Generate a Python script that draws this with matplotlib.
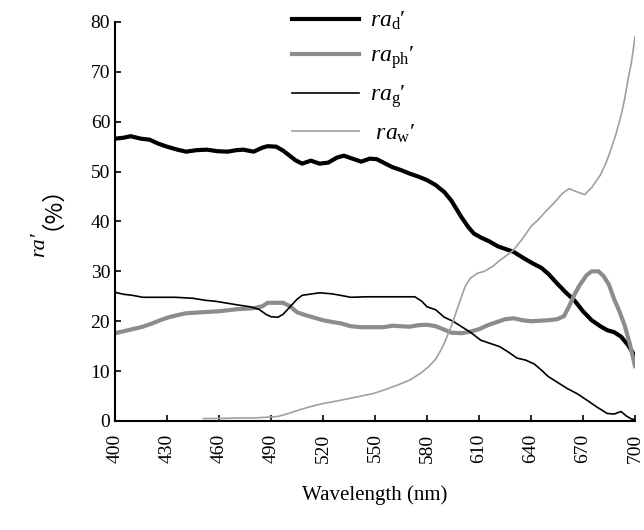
#!/usr/bin/env python3
"""Relative absorption spectra of water constituents."""

import matplotlib

matplotlib.use("Agg")
import matplotlib.pyplot as plt

# ra_d' (detritus), thick black
wl_d = [400, 405, 409, 415, 420, 425, 430, 436, 441, 447, 453, 459, 465, 470, 474,
        480, 485, 488, 493, 497, 500, 504, 508, 513, 518, 523, 528, 532, 537, 542,
        547, 551, 556, 560, 565, 570, 575, 580, 585, 590, 594, 597, 600, 604, 607,
        611, 616, 621, 626, 630, 636, 641, 646, 650, 655, 660, 665, 670, 675, 680,
        684, 688, 692, 696, 700]
ra_d = [56.6, 56.8, 57.1, 56.6, 56.4, 55.6, 55.0, 54.4, 54.0, 54.3, 54.4, 54.1, 54.0,
        54.3, 54.4, 54.0, 54.8, 55.1, 55.0, 54.2, 53.4, 52.3, 51.6, 52.2, 51.6, 51.8,
        52.8, 53.2, 52.6, 52.0, 52.6, 52.5, 51.6, 50.9, 50.3, 49.6, 49.0, 48.3, 47.3,
        45.9, 44.2, 42.5, 40.8, 38.8, 37.6, 36.8, 36.0, 35.0, 34.4, 33.9, 32.6, 31.6,
        30.7, 29.5, 27.6, 25.8, 24.2, 22.0, 20.2, 19.0, 18.2, 17.8, 16.9, 15.2, 13.0]

# ra_ph' (phytoplankton), thick gray
wl_ph = [400, 405, 410, 416, 421, 426, 431, 437, 441, 450, 460, 470, 480, 485, 488,
         493, 497, 501, 505, 510, 515, 520, 526, 530, 536, 542, 549, 555, 560, 565,
         570, 575, 580, 585, 590, 594, 600, 605, 610, 615, 620, 625, 630, 635, 640,
         645, 650, 655, 659, 662, 665, 668, 672, 675, 679, 682, 685, 688, 691, 694,
         697, 700]
ra_ph = [17.6, 18.0, 18.4, 18.9, 19.5, 20.2, 20.8, 21.3, 21.6, 21.8, 22.0, 22.4, 22.6,
         23.0, 23.7, 23.7, 23.7, 23.0, 21.8, 21.2, 20.7, 20.2, 19.8, 19.6, 19.0, 18.8,
         18.8, 18.8, 19.1, 19.0, 18.9, 19.2, 19.3, 19.0, 18.3, 17.7, 17.6, 17.9, 18.4,
         19.2, 19.8, 20.4, 20.6, 20.2, 20.0, 20.1, 20.2, 20.4, 21.0, 23.0, 25.3, 27.2,
         29.2, 30.0, 30.0, 29.0, 27.3, 24.4, 22.0, 19.2, 15.5, 11.0]

# ra_g' (CDOM), thin black
wl_g = [400, 405, 410, 416, 425, 435, 445, 452, 458, 465, 472, 478, 483, 487, 490,
        494, 497, 501, 505, 508, 512, 518, 525, 530, 536, 545, 555, 565, 573, 577,
        580, 585, 590, 595, 600, 605, 611, 616, 622, 627, 632, 637, 642, 646, 650,
        655, 661, 667, 673, 678, 684, 688, 692, 695, 698, 700]
ra_g = [25.8, 25.4, 25.2, 24.8, 24.8, 24.8, 24.6, 24.2, 24.0, 23.6, 23.2, 22.9, 22.4,
        21.4, 20.9, 20.8, 21.4, 22.9, 24.4, 25.2, 25.4, 25.7, 25.5, 25.2, 24.8, 24.9,
        24.9, 24.9, 24.9, 24.0, 22.9, 22.3, 20.8, 20.0, 18.9, 17.8, 16.2, 15.6, 14.9,
        13.8, 12.6, 12.2, 11.4, 10.2, 8.9, 7.8, 6.5, 5.4, 4.0, 2.8, 1.5, 1.4, 1.9,
        1.0, 0.4, 0.3]

# ra_w' (pure water), thin gray
wl_w = [451, 460, 470, 480, 490, 494, 500, 507, 514, 520, 528, 535, 542, 549, 556,
        563, 570, 576, 581, 585, 588, 590, 592, 594, 596, 598, 600, 602, 605, 609,
        613, 618, 622, 626, 630, 635, 640, 644, 649, 653, 658, 662, 666, 671, 675,
        680, 683, 686, 689, 692, 694, 696, 698, 700]
ra_w = [0.5, 0.5, 0.6, 0.6, 0.8, 0.9, 1.5, 2.3, 3.0, 3.5, 4.0, 4.5, 5.0, 5.5, 6.3,
        7.2, 8.2, 9.5, 10.9, 12.4, 14.2, 15.6, 17.3, 19.0, 21.0, 23.0, 25.0, 27.0,
        28.6, 29.6, 30.0, 31.0, 32.2, 33.2, 34.3, 36.5, 39.0, 40.3, 42.2, 43.6, 45.6,
        46.6, 46.0, 45.4, 46.8, 49.3, 51.5, 54.3, 57.5, 61.3, 64.5, 68.5, 72.0, 77.0]

x_ticks = [400, 430, 460, 490, 520, 550, 580, 610, 640, 670, 700]
y_ticks = [0, 10, 20, 30, 40, 50, 60, 70, 80]

labels = [
    r"$\mathit{ra}_{\mathrm{d}}$′",
    r"$\mathit{ra}_{\mathrm{ph}}$′",
    r"$\mathit{ra}_{\mathrm{g}}$′",
    r" $\mathit{ra}_{\mathrm{w}}$′",
]

plt.rcParams["font.family"] = ["Liberation Serif", "Noto Sans CJK SC"]
plt.rcParams["mathtext.fontset"] = "custom"
plt.rcParams["mathtext.rm"] = "Liberation Serif"
plt.rcParams["mathtext.it"] = "Liberation Serif:italic"


def main() -> None:
    fig = plt.figure(figsize=(6.44, 5.30), dpi=100)
    ax = fig.add_axes([0.1786, 0.2057, 0.8074, 0.7528])

    ax.plot(wl_d, ra_d, color="black", lw=3.0, label=labels[0])
    ax.plot(wl_ph, ra_ph, color="#8c8c8c", lw=3.0, label=labels[1])
    ax.plot(wl_g, ra_g, color="black", lw=1.2, label=labels[2])
    ax.plot(wl_w, ra_w, color="#a0a0a0", lw=1.2, label=labels[3])

    ax.set_xlim(400, 700)
    ax.set_ylim(0, 80)
    ax.set_xticks(x_ticks)
    ax.set_yticks(y_ticks)
    ax.tick_params(direction="in", length=4, width=1.2, labelsize=14)
    ax.tick_params(axis="x", pad=9)
    for label in ax.get_xticklabels():
        label.set_rotation(90)
    for side in ("top", "right"):
        ax.spines[side].set_visible(False)
    for side in ("left", "bottom"):
        ax.spines[side].set_linewidth(1.5)

    ax.set_xlabel("Wavelength (nm)", fontsize=15, labelpad=16)

    # y label in two pieces so the italic part and the full-width brackets both render
    split_y = 1 - 232 / 530
    fig.text(40 / 644, split_y, "ra′", rotation=90, ha="center", va="top",
             fontsize=16, fontstyle="italic", family=["Liberation Serif", "DejaVu Serif"])
    fig.text(40 / 644, split_y + 2 / 530, "（%）", rotation=90, ha="center", va="bottom",
             fontsize=17, family=["Noto Sans CJK SC", "DejaVu Sans"])

    fig.legend(
        loc="upper left",
        bbox_to_anchor=(292 / 644, 1 - 10 / 530),
        frameon=False,
        fontsize=17,
        handlelength=2.85,
        handletextpad=0.45,
        labelspacing=0.52,
        borderpad=0,
        borderaxespad=0,
    )

    fig.savefig("out.png", dpi=100)
    plt.close(fig)


if __name__ == "__main__":
    main()
